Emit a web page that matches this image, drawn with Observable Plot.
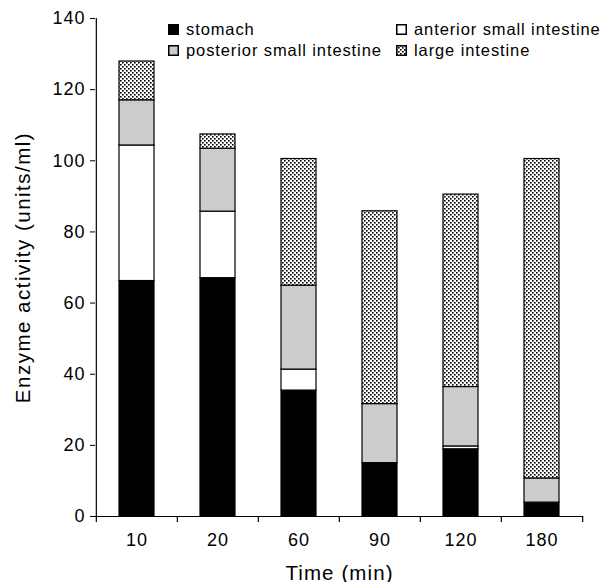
<!DOCTYPE html>
<html><head><meta charset="utf-8">
<script src="https://cdn.jsdelivr.net/npm/d3@7"></script>
<script src="https://cdn.jsdelivr.net/npm/@observablehq/plot@0.6"></script>
<style>
body{margin:0;background:#fff;font-family:"Liberation Sans",Arial,sans-serif;}
#wrap{position:relative;width:605px;height:582px;}
.item{position:absolute;display:flex;align-items:center;font-size:16.5px;line-height:16.5px;letter-spacing:0.9px;color:#000;white-space:nowrap;}
.item svg{margin-right:7px;display:block;}
</style></head>
<body><div id="wrap"></div>
<script>
const times = ["10", "20", "60", "90", "120", "180"];
const organs = ["stomach", "anterior small intestine", "posterior small intestine", "large intestine"];
const stomach = [66.2, 67.0, 35.4, 15.0, 18.9, 3.9];
const anterior = [38.1, 18.7, 5.9, 0, 0.8, 0];
const posterior = [12.7, 17.7, 23.6, 16.6, 16.7, 6.8];
const large = [10.9, 4.0, 35.6, 54.2, 54.1, 89.8];
const yTicks = [0, 20, 40, 60, 80, 100, 120, 140];
const fills = ["#000000", "#ffffff", "#cccccc", "url(#dots)"];

const series = [stomach, anterior, posterior, large];
const data = [];
organs.forEach((o, k) => times.forEach((t, i) => data.push({time: t, organ: o, value: series[k][i]})));

const W = 605, H = 582, mL = 95, mR = 22, mT = 18, mB = 66;
const step = (W - mL - mR) / times.length;

const chart = Plot.plot({
  width: W, height: H,
  marginLeft: mL, marginRight: mR, marginTop: mT, marginBottom: mB,
  style: {fontFamily: "'Liberation Sans', Arial, sans-serif", fontSize: "18px", letterSpacing: "1px", color: "#000", background: "#fff", overflow: "visible"},
  x: {domain: times, paddingInner: 0.57, paddingOuter: 0.285},
  y: {domain: [0, 140]},
  color: {domain: organs, range: fills},
  marks: [
    Plot.barY(data, {x: "time", y: "value", fill: "organ", stroke: "#000", strokeWidth: 1.2}),
    Plot.ruleY([0], {stroke: "#000", strokeWidth: 1.2}),
    Plot.ruleX([times[0]], {x: d => d, y1: 0, y2: 140, dx: -step / 2, stroke: "#000", strokeWidth: 1.2}),
    Plot.ruleX(times, {x: d => d, y1: 0, y2: 0, insetBottom: -6, dx: -step / 2, stroke: "#000", strokeWidth: 1.2}),
    Plot.ruleX([times[times.length - 1]], {x: d => d, y1: 0, y2: 0, insetBottom: -6, dx: step / 2, stroke: "#000", strokeWidth: 1.2}),
    Plot.axisY({ticks: yTicks, tickSize: 5, tickPadding: 5, stroke: "#000", label: "Enzyme activity (units/ml)", labelArrow: "none", labelAnchor: "center", labelOffset: 80, fontSize: 18}),
    Plot.axisX({tickSize: 0, tickPadding: 17, label: "Time (min)", labelArrow: "none", labelAnchor: "center", labelOffset: 63, fontSize: 18})
  ]
});

d3.select(chart).selectAll('[aria-label="x-axis label"] text')
  .attr("font-size", 20.5).style("font-size", "20.5px").style("letter-spacing", "1.1px");
d3.select(chart).selectAll('[aria-label="y-axis label"] text')
  .attr("font-size", 20.5).style("font-size", "20.5px").style("letter-spacing", "1.5px");

const defs = `<defs><pattern id="dots" patternUnits="userSpaceOnUse" width="4" height="4">
<rect width="4" height="4" fill="#fff"/>
<rect x="0" y="0" width="1.6" height="1.6" fill="#000"/>
<rect x="2" y="2" width="1.6" height="1.6" fill="#000"/>
</pattern></defs>`;
chart.insertAdjacentHTML("afterbegin", defs);

const wrap = document.getElementById("wrap");
wrap.appendChild(chart);

const pos = [[168, 21], [396, 21], [168, 42], [396, 42]];
organs.forEach((o, k) => {
  const div = document.createElement("div");
  div.className = "item";
  div.style.left = pos[k][0] + "px";
  div.style.top = pos[k][1] + "px";
  div.innerHTML = `<svg width="11" height="11"><rect x="0.75" y="0.75" width="9.5" height="9.5" fill="${fills[k]}" stroke="#000" stroke-width="1.5"/></svg><span>${o}</span>`;
  wrap.appendChild(div);
});
</script>
</body></html>
